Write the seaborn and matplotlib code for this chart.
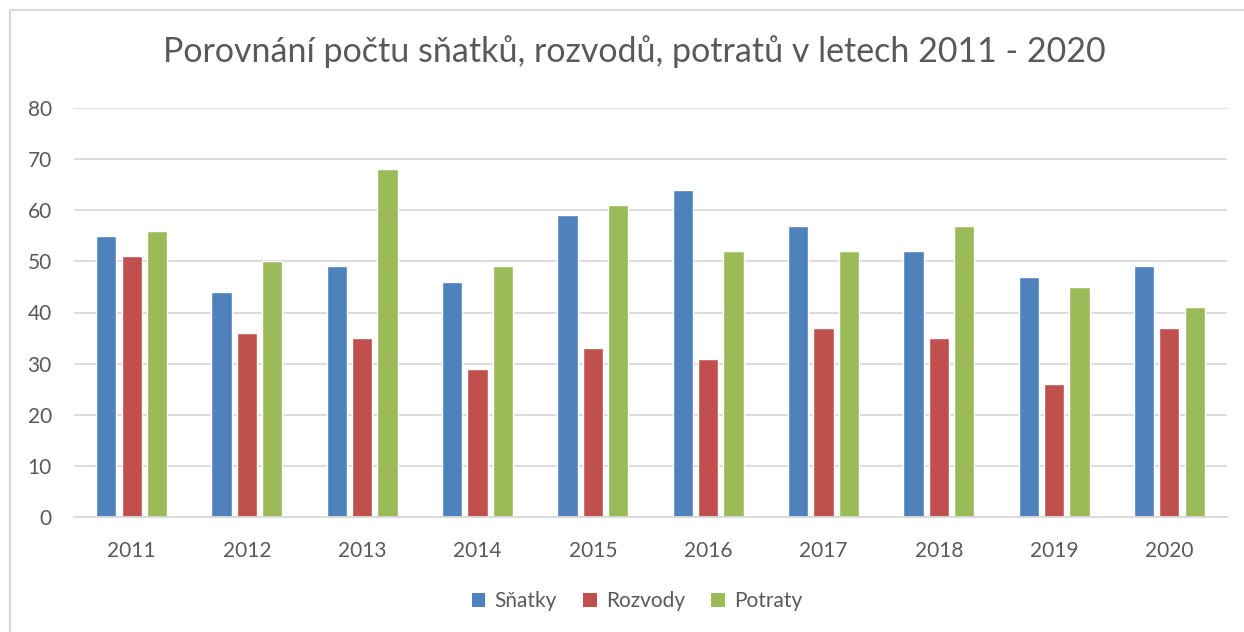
import pandas as pd
import matplotlib
matplotlib.use('Agg')
import matplotlib.pyplot as plt
import seaborn as sns
from matplotlib.lines import Line2D
from matplotlib.patches import Patch

years = ['2011', '2012', '2013', '2014', '2015', '2016', '2017', '2018', '2019', '2020']
snatky = [55, 44, 49, 46, 59, 64, 57, 52, 47, 49]
rozvody = [51, 36, 35, 29, 33, 31, 37, 35, 26, 37]
potraty = [56, 50, 68, 49, 61, 52, 52, 57, 45, 41]
series = ['Sňatky', 'Rozvody', 'Potraty']
colors = ['#4F81BD', '#C0504D', '#9BBB59']

df = pd.DataFrame({'rok': years, 'Sňatky': snatky, 'Rozvody': rozvody, 'Potraty': potraty})
long_df = df.melt(id_vars='rok', var_name='typ', value_name='pocet')

sns.set_style('white')
plt.rcParams['font.family'] = ['Lato', 'DejaVu Sans']
text_col = '#595959'
grid_col = '#D9D9D9'

W, H = 1244, 632
fig = plt.figure(figsize=(W / 100, H / 100), dpi=100)
ax = fig.add_axes([74 / W, 1 - 517 / H, (1227 - 74) / W, (517 - 108) / H])

sns.barplot(data=long_df, x='rok', y='pocet', hue='typ', hue_order=series,
            palette=colors, width=0.66, gap=0.2, saturation=1, legend=False, ax=ax)

ax.set_ylim(0, 80)
ax.set_yticks(range(0, 81, 10))
ax.set_xlim(-0.5, len(years) - 0.5)
ax.yaxis.grid(True, color=grid_col, linewidth=1.3)
ax.set_axisbelow(True)
for side in ['left', 'right', 'top']:
    ax.spines[side].set_visible(False)
ax.spines['bottom'].set_color(grid_col)
ax.spines['bottom'].set_linewidth(1.3)
ax.tick_params(axis='both', length=0, labelsize=15, labelcolor=text_col)
ax.tick_params(axis='x', pad=17)
ax.tick_params(axis='y', pad=16)
ax.set_xlabel('')
ax.set_ylabel('')

fig.text(634 / W, 1 - 52 / H, 'Porovnání počtu sňatků, rozvodů, potratů v letech 2011 - 2020',
         ha='center', va='center', fontsize=24.5, color=text_col)

handles = [Patch(facecolor=c, edgecolor='none') for c in colors]
fig.legend(handles, series, loc='center', bbox_to_anchor=(637 / W, 1 - 601 / H), ncol=3,
           frameon=False, fontsize=15, labelcolor=text_col, handlelength=0.65,
           handleheight=0.65, handletextpad=0.45, columnspacing=1.25)

# outer chart border (top and left visible)
fig.add_artist(Line2D([10 / W, 10 / W], [0, 1 - 10 / H], color=grid_col, linewidth=1.5,
                      transform=fig.transFigure))
fig.add_artist(Line2D([10 / W, 1], [1 - 10 / H, 1 - 10 / H], color=grid_col, linewidth=1.5,
                      transform=fig.transFigure))

fig.savefig('out.png', dpi=100)
